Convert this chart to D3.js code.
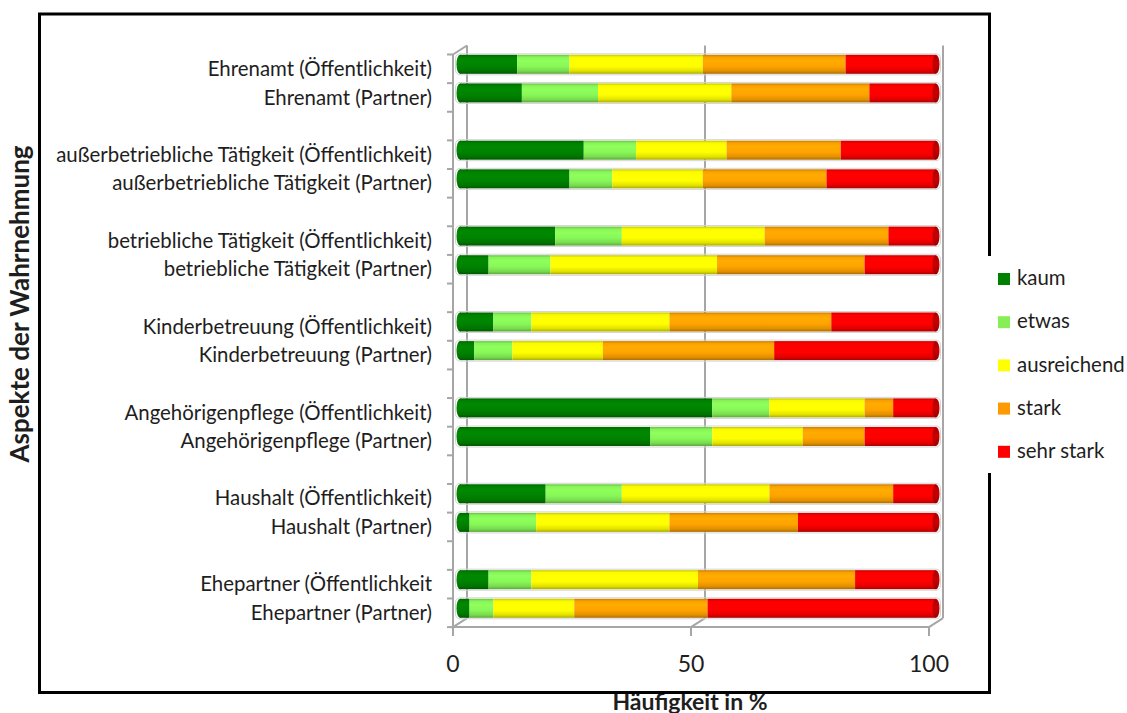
<!DOCTYPE html>
<html>
<head>
<meta charset="utf-8">
<script src="https://cdn.jsdelivr.net/npm/d3@7"></script>
<style>
  html, body { margin: 0; padding: 0; background: #fff; }
  svg { display: block; }
  text { font-family: Lato, "Open Sans", sans-serif; fill: #1e1e1e; }
</style>
</head>
<body>
<svg id="chart" width="1127" height="713"></svg>
<script>
// Aspects of perception, top to bottom
const categories = [
  "Ehrenamt (Öffentlichkeit)",
  "Ehrenamt (Partner)",
  "außerbetriebliche Tätigkeit (Öffentlichkeit)",
  "außerbetriebliche Tätigkeit (Partner)",
  "betriebliche Tätigkeit (Öffentlichkeit)",
  "betriebliche Tätigkeit (Partner)",
  "Kinderbetreuung (Öffentlichkeit)",
  "Kinderbetreuung (Partner)",
  "Angehörigenpflege (Öffentlichkeit)",
  "Angehörigenpflege (Partner)",
  "Haushalt (Öffentlichkeit)",
  "Haushalt (Partner)",
  "Ehepartner (Öffentlichkeit",
  "Ehepartner (Partner)"
];

// Frequency in % per answer level
const kaum        = [12, 13, 26, 23, 20,  6,  7,  3, 53, 40, 18,  2,  6,  2];
const etwas       = [11, 16, 11,  9, 14, 13,  8,  8, 12, 13, 16, 14,  9,  5];
const ausreichend = [28, 28, 19, 19, 30, 35, 29, 19, 20, 19, 31, 28, 35, 17];
const stark       = [30, 29, 24, 26, 26, 31, 34, 36,  6, 13, 26, 27, 33, 28];
const sehrStark   = [19, 14, 20, 23, 10, 15, 22, 34,  9, 15,  9, 29, 17, 48];

const seriesNames  = ["kaum", "etwas", "ausreichend", "stark", "sehr stark"];
const seriesColors = ["#008200", "#88f858", "#ffff00", "#ffa300", "#ff0000"];
const legendColors = ["#008000", "#88ee55", "#ffff00", "#ff9900", "#ff0000"];
const xTicks = [0, 50, 100];

const seriesValues = [kaum, etwas, ausreichend, stark, sehrStark];

const svg = d3.select("#chart");
const defs = svg.append("defs");

// Category slots: two bars per aspect followed by an empty slot
const slots = [];
categories.forEach((c, i) => {
  slots.push(c);
  if (i % 2 === 1 && i < categories.length - 1) slots.push("__gap" + i);
});

const y = d3.scalePoint().domain(slots).range([64.3, 608.3]);
const step = y.step();
const x = d3.scaleLinear().domain([0, 100]).range([460, 936]);

// 3D depth offset (half depth) of the plot box
const dX = 7, dY = 4.5;
const topEdge = y(slots[0]) - step / 2;
const botEdge = y(slots[slots.length - 1]) + step / 2;
const wallColor = "#a6a6a6";

const box = svg.append("g").attr("fill", "none").attr("stroke", wallColor).attr("stroke-width", 2);

// back-wall gridlines
box.selectAll("line.grid").data(xTicks).join("line")
  .attr("class", "grid")
  .attr("x1", d => x(d) + dX).attr("x2", d => x(d) + dX)
  .attr("y1", topEdge - dY).attr("y2", botEdge - dY);

// floor: front edge and depth lines
box.append("line")
  .attr("x1", x(0) - dX).attr("x2", x(100) - dX)
  .attr("y1", botEdge + dY).attr("y2", botEdge + dY);
box.selectAll("line.depth").data(xTicks).join("line")
  .attr("class", "depth")
  .attr("x1", d => x(d) - dX).attr("y1", botEdge + dY)
  .attr("x2", d => x(d) + dX).attr("y2", botEdge - dY);
box.selectAll("line.xtick").data(xTicks).join("line")
  .attr("class", "xtick")
  .attr("x1", d => x(d) - dX).attr("x2", d => x(d) - dX)
  .attr("y1", botEdge + dY).attr("y2", botEdge + dY + 9);

// side wall front edge, top slant and category ticks
box.append("line")
  .attr("x1", x(0) - dX).attr("x2", x(0) - dX)
  .attr("y1", topEdge + dY).attr("y2", botEdge + dY);
box.append("line")
  .attr("x1", x(0) - dX).attr("y1", topEdge + dY)
  .attr("x2", x(0) + dX).attr("y2", topEdge - dY);
const boundaries = d3.range(slots.length + 1).map(i => topEdge + i * step);
box.selectAll("line.ytick").data(boundaries).join("line")
  .attr("class", "ytick")
  .attr("x1", x(0) - dX - 6).attr("x2", x(0) - dX)
  .attr("y1", d => d + dY).attr("y2", d => d + dY);

// cylinder shading per series
seriesColors.forEach((col, k) => {
  const c = d3.color(col);
  const g = defs.append("linearGradient")
    .attr("id", "cyl" + k).attr("x1", 0).attr("y1", 0).attr("x2", 0).attr("y2", 1);
  [[0, c.darker(0.7)], [0.12, c.darker(0.05)], [0.3, c.brighter(0.15)], [0.6, c],
   [0.85, c.darker(0.35)], [1, c.darker(1.1)]]
    .forEach(([o, cc]) => g.append("stop").attr("offset", o).attr("stop-color", cc.formatHex()));
  const e = defs.append("linearGradient")
    .attr("id", "cap" + k).attr("x1", 0).attr("y1", 0).attr("x2", 0).attr("y2", 1);
  [[0, c.darker(1.1)], [0.5, c.darker(0.7)], [1, c.darker(1.4)]]
    .forEach(([o, cc]) => e.append("stop").attr("offset", o).attr("stop-color", cc.formatHex()));
});

const barH = 19;
const rx = 3.5;

const rows = categories.map((c, i) => {
  let acc = 0;
  const segs = seriesValues.map((arr, k) => {
    const s = { k, x0: acc, x1: acc + arr[i] };
    acc += arr[i];
    return s;
  });
  return { c, segs };
});

const bars = svg.append("g").selectAll("g.bar").data(rows).join("g")
  .attr("class", "bar")
  .attr("transform", d => `translate(0,${y(d.c) - barH / 2})`);

// soft outline around each cylinder
bars.append("rect")
  .attr("x", x(0) - rx - 1).attr("y", -1)
  .attr("width", x(100) - x(0) + 2 * rx + 2).attr("height", barH + 2)
  .attr("rx", rx + 1)
  .attr("fill", "none").attr("stroke", "#d4d4d4").attr("stroke-width", 1);

// rounded left end in the first non-empty colour
bars.append("ellipse")
  .attr("cx", x(0)).attr("cy", barH / 2).attr("rx", rx).attr("ry", barH / 2)
  .attr("fill", d => "url(#cyl" + d.segs.find(s => s.x1 > s.x0).k + ")");

bars.selectAll("rect.seg").data(d => d.segs.filter(s => s.x1 > s.x0)).join("rect")
  .attr("class", "seg")
  .attr("x", s => x(s.x0)).attr("width", s => x(s.x1) - x(s.x0))
  .attr("y", 0).attr("height", barH)
  .attr("fill", s => "url(#cyl" + s.k + ")");

// visible end cap on the right
bars.append("ellipse")
  .attr("cx", x(100)).attr("cy", barH / 2).attr("rx", rx).attr("ry", barH / 2)
  .attr("fill", d => "url(#cap" + d.segs.filter(s => s.x1 > s.x0).slice(-1)[0].k + ")");

// category labels
svg.append("g").selectAll("text").data(categories).join("text")
  .attr("x", 432).attr("y", d => y(d) + dY + 2)
  .attr("text-anchor", "end").attr("dominant-baseline", "middle")
  .attr("font-size", 20.4)
  .text(d => d);

// value axis labels
svg.append("g").selectAll("text").data(xTicks).join("text")
  .attr("x", d => x(d) - dX).attr("y", 672)
  .attr("text-anchor", "middle").attr("font-size", 23)
  .text(d => d);

// axis titles
svg.append("text")
  .attr("x", 690).attr("y", 710)
  .attr("text-anchor", "middle").attr("font-size", 23).attr("font-weight", "bold")
  .text("Häufigkeit in %");
svg.append("text")
  .attr("transform", "translate(29,304) rotate(-90)")
  .attr("text-anchor", "middle").attr("font-size", 26).attr("font-weight", "bold")
  .text("Aspekte der Wahrnehmung");

// legend
const legend = svg.append("g").selectAll("g").data(seriesNames).join("g")
  .attr("transform", (d, i) => `translate(998,${279 + i * 43.2})`);
legend.append("rect")
  .attr("x", 0).attr("y", -6).attr("width", 12).attr("height", 12)
  .attr("fill", (d, i) => legendColors[i]);
legend.append("text")
  .attr("x", 19).attr("y", 1).attr("dominant-baseline", "middle")
  .attr("font-size", 20.4)
  .text(d => d);

// outer frame, open on the right where the legend sits
svg.append("path")
  .attr("d", "M989.5,256 V14 H39.5 V692.5 H989.5 V473")
  .attr("fill", "none").attr("stroke", "#000").attr("stroke-width", 3);
</script>
</body>
</html>
